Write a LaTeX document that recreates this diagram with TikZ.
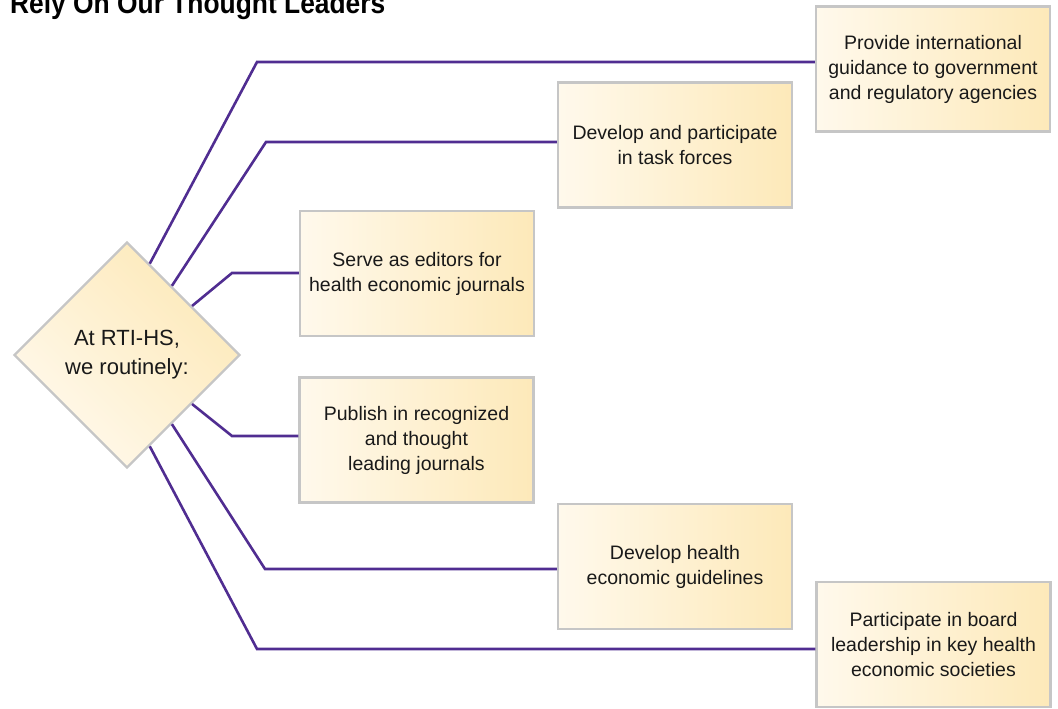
\documentclass[tikz,border=0pt]{standalone}
\usepackage{fontspec}
\setmainfont{Liberation Sans}
\newfontfamily\titlefont[FakeStretch=0.9]{Liberation Sans}
\usetikzlibrary{shapes.geometric,calc}
\definecolor{linepurple}{RGB}{80,45,145}
\definecolor{boxgray}{RGB}{198,198,198}
\definecolor{creamL}{RGB}{255,249,236}
\definecolor{creamR}{RGB}{253,233,185}
\definecolor{txt}{RGB}{25,25,25}
\begin{document}
\begin{tikzpicture}[x=1pt,y=-1pt,
  itembox/.style={draw=boxgray, line width=2.2pt, left color=creamL, right color=creamR,
    minimum width=234pt, minimum height=125pt, inner sep=0pt, align=center, text=txt,
    font=\fontsize{19.5}{25}\selectfont},
  hub/.style={diamond, aspect=1, draw=boxgray, line width=2.2pt, top color=creamR,
    bottom color=creamL, shading angle=-45, minimum width=226pt, minimum height=226pt,
    inner sep=0pt, align=center, text=txt, font=\fontsize{22}{29}\selectfont},
  link/.style={draw=linepurple, line width=2.6pt, line join=miter}]
\useasboundingbox (0,0) rectangle (1058,709);
\clip (0,0) rectangle (1058,709);

\node[anchor=base west, inner sep=0pt, text=black,
  font=\titlefont\bfseries\fontsize{29.3}{30}\selectfont] (title) at (10,13.5) {Rely On Our Thought Leaders};

\node[hub] (hub) at (127,355) {At RTI-HS,\\we routinely:};

\node[itembox] (b1) at (933,69) {Provide international\\guidance to government\\and regulatory agencies};
\node[itembox] (b2) at (675,145) {Develop and participate\\in task forces};
\node[itembox] (b3) at (417,273.5) {Serve as editors for\\health economic journals};
\node[itembox] (b4) at (416.5,440) {Publish in recognized\\and thought\\leading journals};
\node[itembox] (b5) at (675,566.5) {Develop health\\economic guidelines};
\node[itembox] (b6) at (933.5,644.5) {Participate in board\\leadership in key health\\economic societies};

\coordinate (k1) at (257,62);
\coordinate (k2) at (266,142);
\coordinate (k3) at (232,273);
\coordinate (k4) at (232,436);
\coordinate (k5) at (265,569);
\coordinate (k6) at (257,649);

\draw[link] (hub.76) -- (k1) -- (k1 -| b1.west);
\draw[link] (hub.57) -- (k2) -- (k2 -| b2.west);
\draw[link] (hub.37) -- (k3) -- (k3 -| b3.west);
\draw[link] (hub.-37) -- (k4) -- (k4 -| b4.west);
\draw[link] (hub.-57) -- (k5) -- (k5 -| b5.west);
\draw[link] (hub.-76) -- (k6) -- (k6 -| b6.west);
\end{tikzpicture}
\end{document}
